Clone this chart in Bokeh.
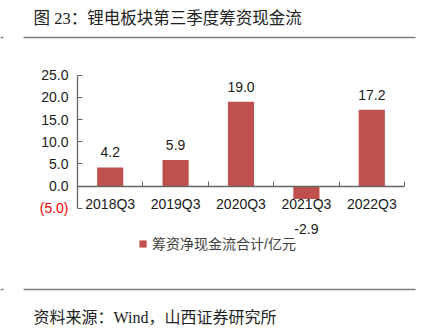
from bokeh.plotting import figure
from bokeh.models import (Range1d, FixedTicker, CustomJSTickFormatter, Label,
                          Legend, LegendItem, LinearAxis)
from bokeh.core.properties import value
from bokeh.embed import file_html
from bokeh.resources import INLINE

categories = ["2018Q3", "2019Q3", "2020Q3", "2021Q3", "2022Q3"]
values = [4.2, 5.9, 19.0, -2.9, 17.2]
y_ticks = [-5, 0, 5, 10, 15, 20, 25]
series_name = "筹资净现金流合计/亿元"
title_text = "图 23：锂电板块第三季度筹资现金流"
source_text = "资料来源：Wind，山西证券研究所"

BAR = "#C0504D"
AXIS = "#666666"
RULE = "#7f7f7f"
SANS = "Liberation Sans, Noto Sans CJK SC"
SERIF = "Liberation Serif, Noto Sans CJK SC"

W, H = 431, 328
xs = list(range(1, len(categories) + 1))

# plot-area placement on the canvas (pixels)
X_L, X_R = 77, 404          # x of first / last category boundary
Y_T, Y_B = 74.7, 207.7      # y of top / bottom y tick
x_lo, x_hi = xs[0] - 0.5, xs[-1] + 0.5
y_lo, y_hi = y_ticks[0], y_ticks[-1]
ux = (X_R - X_L) / (x_hi - x_lo)
uy = (Y_B - Y_T) / (y_hi - y_lo)

p = figure(width=W, height=H, output_backend="svg", toolbar_location=None,
           x_range=Range1d(0, W), y_range=Range1d(H, 0),
           x_axis_location=None, y_axis_location=None,
           min_border=0, min_border_left=0, min_border_right=0,
           min_border_top=0, min_border_bottom=0)
p.outline_line_color = None
p.grid.visible = False
p.extra_x_ranges = {"cx": Range1d(x_lo - X_L / ux, x_hi + (W - X_R) / ux)}
p.extra_y_ranges = {"cy": Range1d(y_lo - (H - Y_B) / uy, y_hi + Y_T / uy)}

r = p.vbar(x=xs, top=values, bottom=0, width=0.4, fill_color=BAR, line_color=None,
           x_range_name="cx", y_range_name="cy")

# data labels
pos = [(x, v) for x, v in zip(xs, values) if v >= 0]
neg = [(x, v) for x, v in zip(xs, values) if v < 0]
p.text(x=[a for a, _ in pos], y=[b for _, b in pos], text=[f"{b:.1f}" for _, b in pos],
       text_align="center", text_baseline="bottom", y_offset=-10,
       text_font=value(SANS), text_font_size="14px", text_color="#1a1a1a",
       x_range_name="cx", y_range_name="cy")
p.text(x=[a for a, _ in neg], y=[b for _, b in neg], text=[f"{b:.1f}" for _, b in neg],
       text_align="center", text_baseline="top", y_offset=25,
       text_font=value(SANS), text_font_size="14px", text_color="#1a1a1a",
       x_range_name="cx", y_range_name="cy")

# y axis
ya = LinearAxis(x_range_name="cx", y_range_name="cy", fixed_location=x_lo)
ya.ticker = FixedTicker(ticks=y_ticks, minor_ticks=[])
ya.bounds = (y_lo, y_hi)
ya.formatter = CustomJSTickFormatter(code="return tick < 0 ? '' : tick.toFixed(1);")
ya.major_tick_in = 5
ya.major_tick_out = 0
ya.minor_tick_line_color = None
ya.axis_line_color = AXIS
ya.major_tick_line_color = AXIS
ya.axis_line_width = 1.3
ya.major_label_standoff = 9
ya.major_label_text_font = SANS
ya.major_label_text_font_size = "14px"
ya.major_label_text_color = "#1a1a1a"
p.add_layout(ya, "left")

p.add_layout(Label(x=x_lo, y=y_lo, text=f"({abs(y_lo):.1f})",
                   x_range_name="cx", y_range_name="cy",
                   x_offset=-9, text_align="right", text_baseline="middle",
                   text_font=SANS, text_font_size="14px", text_color="#FF0000"))

# x axis
xa = LinearAxis(x_range_name="cx", y_range_name="cy", fixed_location=0)
xa.ticker = FixedTicker(ticks=xs, minor_ticks=[x - 0.5 for x in xs] + [xs[-1] + 0.5])
xa.bounds = (x_lo, x_hi)
xa.major_label_overrides = {x: c for x, c in zip(xs, categories)}
xa.major_tick_in = 0
xa.major_tick_out = 0
xa.minor_tick_in = 5
xa.minor_tick_out = 0
xa.minor_tick_line_color = AXIS
xa.axis_line_color = AXIS
xa.axis_line_width = 1.3
xa.major_label_standoff = 10
xa.major_label_text_font = SANS
xa.major_label_text_font_size = "14px"
xa.major_label_text_color = "#1a1a1a"
p.add_layout(xa, "below")

legend = Legend(items=[LegendItem(label=series_name, renderers=[r])],
                location=(138, 75), orientation="horizontal",
                padding=0, margin=0, border_line_color=None,
                background_fill_alpha=0,
                glyph_width=9, glyph_height=9, label_height=15,
                label_text_font=SANS, label_text_font_size="14px",
                label_text_color="#404040", label_standoff=5)
p.add_layout(legend)

# title, source and rules (canvas pixel coordinates via the default ranges)
p.text(x=[33], y=[18], text=[title_text], text_baseline="middle",
       text_font=value(SERIF), text_font_size="16.5px", text_color="#222222")
p.text(x=[33], y=[317], text=[source_text], text_baseline="middle",
       text_font=value(SERIF), text_font_size="16px", text_color="#222222")
p.segment(x0=[23, 23, 0, 0], y0=[37, 289, 37, 289], x1=[415, 415, 3, 3], y1=[37, 289, 37, 289],
          line_color=RULE, line_width=1.6)

open("out.html", "w").write(file_html(p, INLINE))
